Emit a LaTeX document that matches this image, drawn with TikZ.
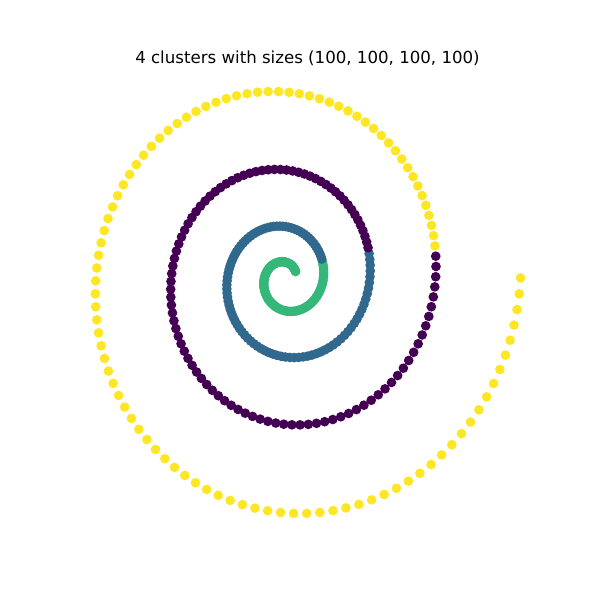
\documentclass[tikz,border=0pt]{standalone}
\usepackage{fontspec}
\setmainfont{DejaVu Sans}
\usepackage{tikz}
\definecolor{vgreen}{HTML}{35B779}
\definecolor{vblue}{HTML}{31688E}
\definecolor{vpurple}{HTML}{440154}
\definecolor{vyellow}{HTML}{FDE725}

\begin{document}
\begin{tikzpicture}[x=0.01in, y=-0.01in, clusterdot/.style={fill=#1}]
    \useasboundingbox (0,0) rectangle (600,600);

    % Title
    \node[anchor=base, font=\fontsize{12}{14}\selectfont] (title) at (307.5, 63.7) {4 clusters with sizes (100, 100, 100, 100)};

    % Spiral, one colour per cluster
    \foreach \c/\col in {0/vgreen, 1/vblue, 2/vpurple, 3/vyellow} {
        \foreach \k in {0,...,99} {
            \pgfmathsetmacro{\ang}{0.19 + (100*\c + \k)*0.019574}
            \pgfmathsetmacro{\rad}{2.4*\ang*\ang + 8.87*\ang + 10.2}
            \fill[clusterdot=\col] ({285.7 + \rad*cos(180*\ang)}, {279 - 1.105*\rad*sin(180*\ang)}) circle (3.5pt);
        }
    }
\end{tikzpicture}
\end{document}
